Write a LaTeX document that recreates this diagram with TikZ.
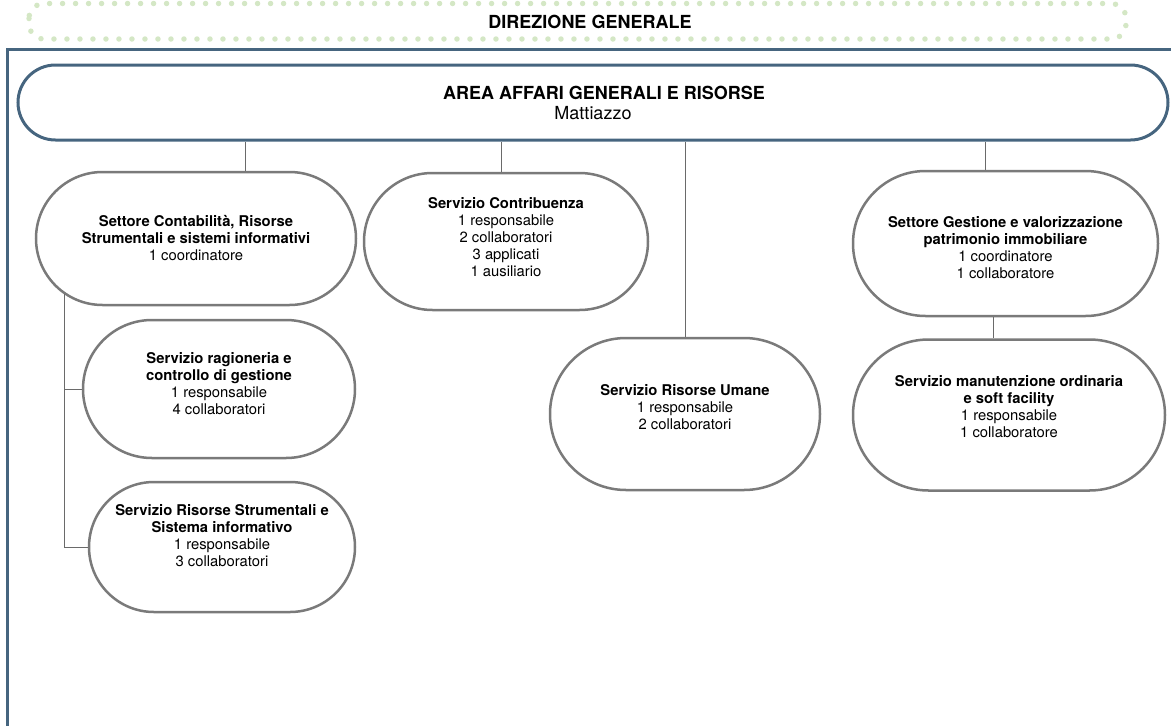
\documentclass[tikz,border=0pt]{standalone}
\usepackage{fontspec}
\setmainfont{TeX Gyre Heros}
\usetikzlibrary{positioning}
\usetikzlibrary{shapes.misc}

\definecolor{frameblue}{HTML}{46657F}
\definecolor{dotgreen}{HTML}{D4E7C5}
\definecolor{boxgray}{HTML}{7A7A7A}
\definecolor{linegray}{HTML}{6A6A6A}

\begin{document}
\begin{tikzpicture}[x=1pt, y=-1pt
  , unit/.style={ rounded rectangle
                , draw=boxgray
                , line width=2.5pt
                , fill=white
                , align=center
                , inner sep=0pt
                , font=\fontsize{14.8}{17}\selectfont
                }
  , link/.style={draw=linegray, line width=1pt}
  ]

  \useasboundingbox (0,0) rectangle (1171,726);

  % direzione generale, dotted band
  \draw [dotgreen, line width=5.5pt, line cap=round, dash pattern=on 0pt off 13pt, rounded corners=15pt]
    (29,3.5) rectangle (1126,39);
  \node (dirgen) at (590,22) {\fontsize{18}{20}\selectfont\bfseries DIREZIONE GENERALE};

  % frame of the area
  \draw [frameblue, line width=3pt] (7,726) |- (1171,49);

  \node (area) [ rounded rectangle, draw=frameblue, line width=3pt
               , minimum width=1150pt, minimum height=75pt, inner sep=0pt
               , align=center, font=\fontsize{18}{20}\selectfont]
    at (593,102.5) {\hspace*{22pt}\textbf{AREA AFFARI GENERALI E RISORSE}\\Mattiazzo};

  \node (settcont) [unit, minimum width=320pt, minimum height=133pt] at (196,238.5)
    {\textbf{Settore Contabilità, Risorse}\\\textbf{Strumentali e sistemi informativi}\\1 coordinatore};
  \node (contrib) [unit, minimum width=284pt, minimum height=137pt, text depth=9pt] at (506,241.5)
    {\textbf{Servizio Contribuenza}\\1 responsabile\\2 collaboratori\\3 applicati\\1 ausiliario};
  \node (umane) [unit, minimum width=270pt, minimum height=152pt, text depth=15pt] at (685,414)
    {\textbf{Servizio Risorse Umane}\\1 responsabile\\2 collaboratori};
  \node (gest) [unit, minimum width=305pt, minimum height=145pt, text height=70pt] at (1005.5,243.5)
    {\textbf{Settore Gestione e valorizzazione}\\\textbf{patrimonio immobiliare}\\1 coordinatore\\1 collaboratore};
  \node (manut) [unit, minimum width=312pt, minimum height=151pt, text depth=18pt, below = 21pt of gest, xshift=3.5pt]
    {\textbf{Servizio manutenzione ordinaria}\\\textbf{e soft facility}\\1 responsabile\\1 collaboratore};
  \node (ragion) [unit, minimum width=272pt, minimum height=138pt, text depth=11pt] at (219,389)
    {\textbf{Servizio ragioneria e}\\\textbf{controllo di gestione}\\1 responsabile\\4 collaboratori};
  \node (strum) [unit, minimum width=266pt, minimum height=130pt, text depth=23pt] at (222,547)
    {\textbf{Servizio Risorse Strumentali e}\\\textbf{Sistema informativo}\\1 responsabile\\3 collaboratori};

  \draw [link] ([xshift=49pt]settcont.north) -- ([xshift=49pt]settcont.north |- area.south);
  \draw [link] ([xshift=-5pt]contrib.north) -- ([xshift=-5pt]contrib.north |- area.south);
  \draw [link] (umane.north) -- (umane.north |- area.south);
  \draw [link] ([xshift=-20pt]gest.north) -- ([xshift=-20pt]gest.north |- area.south);
  \draw [link] ([xshift=-12pt]gest.south) -- ([xshift=-12pt]gest.south |- manut.north);

  \draw [link] (settcont.203) |- (strum.west);
  \draw [link] (ragion.west) -- (ragion.west -| settcont.203);

\end{tikzpicture}
\end{document}
